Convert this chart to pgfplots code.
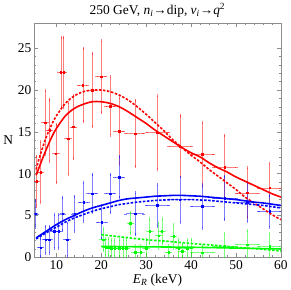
\documentclass[border=0pt]{standalone}
\usepackage{fontspec}
\setmainfont{Liberation Serif}
\usepackage{pgfplots}
\pgfplotsset{compat=1.18}
\usepackage{pgfplotstable}

\pgfplotstableread{
x y ex ey
5.6 9.1 0.5 3.0
6.5 10.2 0.5 3.6
7.5 16.1 0.5 3.8
8.5 15.2 0.5 3.7
9.9 12.4 0.5 3.5
11.0 22.1 0.5 4.2
11.6 22.1 0.5 4.2
12.6 14.2 0.5 4.3
13.8 15.6 0.5 3.8
15.9 20.6 1.0 4.4
18.0 20.0 1.0 4.4
20.0 21.6 1.0 4.3
22.0 18.1 1.0 3.5
24.0 15.1 1.0 4.0
27.5 14.8 2.0 4.0
32.5 14.9 2.5 4.4
37.5 13.3 2.5 3.7
42.5 12.3 2.5 3.8
47.5 10.8 2.5 3.8
52.5 7.7 2.5 3.0
57.5 8.3 2.5 2.9
}\reddata

\pgfplotstableread{
x y ex ey
5.4 5.2 0.5 1.6
6.5 1.15 0.5 1.1
7.6 2.1 0.5 1.6
8.4 2.1 0.5 1.6
9.5 3.1 0.5 2.0
10.5 3.1 0.5 2.0
11.4 5.2 0.5 2.0
12.4 2.1 0.5 2.0
14.1 5.2 0.5 2.1
16.1 6.6 1.0 2.3
18.0 7.6 1.0 2.3
20.1 4.2 1.0 2.0
22.0 7.6 1.0 2.3
24.0 9.6 1.0 2.5
27.5 5.2 2.0 2.5
32.5 6.2 2.5 2.5
37.5 6.9 2.5 2.7
42.5 6.1 2.5 2.6
47.5 7.1 2.5 2.6
52.5 6.6 2.5 2.3
57.5 5.5 2.5 1.9
}\bluedata

\pgfplotstableread{
x y ex ey
20.4 2.1 0.5 1.3
21.0 1.2 0.5 1.0
21.5 1.2 0.5 1.0
22.2 1.1 0.5 1.0
23.0 1.1 0.5 1.0
24.0 1.1 0.5 1.0
24.8 1.1 0.5 1.0
25.6 1.1 0.5 1.0
26.5 4.1 0.5 1.3
27.5 0.6 0.5 0.8
28.8 0.6 0.5 0.8
30.0 1.1 0.5 1.0
30.8 3.1 0.5 1.5
32.8 2.6 0.5 1.5
33.5 3.1 0.5 1.5
35.0 0.6 0.5 0.8
36.1 2.5 0.5 1.4
37.2 1.1 0.5 1.0
38.0 0.75 0.5 0.8
39.1 1.1 0.5 1.0
40.0 1.15 0.5 1.0
42.5 0.55 2.5 0.8
47.5 1.3 2.5 1.5
52.5 1.5 2.5 1.7
57.5 1.3 2.5 1.5
}\greendata

\begin{document}
\begin{tikzpicture}
\begin{axis}[
  scale only axis,
  width=248pt, height=235pt,
  xmin=5, xmax=60, ymin=0, ymax=28,
  xtick={10,20,30,40,50,60},
  ytick={0,5,10,15,20,25},
  minor x tick num=4,
  minor y tick num=4,
  tick align=inside,
  major tick length=4pt,
  minor tick length=2pt,
  axis line style={black!45},
  every tick/.style={black!45},
  tick label style={font=\fontsize{13.5}{15}\selectfont},
  yticklabel style={xshift=1pt},
  /pgf/number format/assume math mode=true,
  title={250 GeV, \textit{n}\textsubscript{\textit{i}}→dip, \textit{v}\textsubscript{\textit{i}}→\textit{q}\textsuperscript{2}},
  title style={font=\fontsize{13.5}{15}\selectfont, yshift=-4pt},
  xlabel={\textit{E}\textsubscript{\textit{R}} (keV)},
  ylabel={N},
  label style={font=\fontsize{13.5}{15}\selectfont},
  ylabel style={rotate=-90, xshift=2pt},
  xlabel style={yshift=3pt},
]
% error bar data
\addplot[only marks, red, mark=square*, mark size=0.8pt,
  error bars/.cd, x dir=both, x explicit, y dir=both, y explicit,
  error bar style={red, opacity=0.5, line width=0.6pt},
  error mark options={red, opacity=0.5, mark size=1.5pt, line width=0.6pt}]
  table[x=x, y=y, x error=ex, y error=ey]{\reddata};
\addplot[only marks, blue, mark=square*, mark size=0.8pt,
  error bars/.cd, x dir=both, x explicit, y dir=both, y explicit,
  error bar style={blue, opacity=0.5, line width=0.6pt},
  error mark options={blue, opacity=0.5, mark size=1.5pt, line width=0.6pt}]
  table[x=x, y=y, x error=ex, y error=ey]{\bluedata};
\addplot[only marks, green, mark=square*, mark size=0.8pt,
  error bars/.cd, x dir=both, x explicit, y dir=both, y explicit,
  error bar style={green, opacity=0.5, line width=0.6pt},
  error mark options={green, opacity=0.5, mark size=1.5pt, line width=0.6pt}]
  table[x=x, y=y, x error=ex, y error=ey]{\greendata};

% red curves
\addplot[red, line width=1.6pt, smooth] coordinates {
(5.5,9.8)(6,10.5)(7,11.9)(8,13.2)(9,14.4)(10,15.4)(12,16.9)(14,17.8)(16,18.3)(18,18.6)(20,18.6)(22,18.4)(24,18.0)(26,17.4)(28,16.7)(30,16.0)(32,15.2)(34,14.5)(36,13.8)(38,13.1)(40,12.5)(42,12.0)(44,11.3)(46,10.7)(48,10.2)(50,9.6)(52,9.1)(54,8.6)(56,8.1)(58,7.6)(60,7.2)};
\addplot[red, line width=1.6pt, smooth, dash pattern=on 2.5pt off 1.6pt] coordinates {
(5.5,10.5)(6,11.5)(7,13.2)(8,14.7)(9,15.9)(10,16.9)(12,18.4)(14,19.3)(16,19.8)(18,20.0)(20,20.0)(22,19.8)(24,19.4)(26,18.8)(28,18.0)(30,17.1)(32,16.1)(34,15.1)(36,14.0)(38,13.1)(40,12.2)(42,11.4)(44,10.5)(46,9.7)(48,8.9)(50,8.1)(52,7.2)(54,6.5)(56,5.8)(58,5.1)(60,4.5)};

% blue curves
\addplot[blue, line width=1.6pt, smooth] coordinates {
(5.5,2.3)(6,2.5)(8,3.2)(10,3.9)(12,4.5)(14,5.0)(16,5.5)(18,5.9)(20,6.2)(22,6.5)(24,6.8)(26,7.0)(28,7.1)(30,7.2)(32,7.3)(34,7.35)(36,7.4)(38,7.4)(40,7.35)(42,7.3)(44,7.2)(46,7.1)(48,7.0)(50,6.9)(52,6.75)(54,6.6)(56,6.5)(58,6.35)(60,6.2)};
\addplot[blue, line width=1.6pt, smooth, dash pattern=on 2.5pt off 1.6pt] coordinates {
(5.5,2.2)(6,2.35)(8,3.0)(10,3.6)(12,4.2)(14,4.7)(16,5.1)(18,5.5)(20,5.8)(22,6.05)(24,6.3)(26,6.45)(28,6.6)(30,6.7)(32,6.8)(34,6.85)(36,6.9)(38,6.9)(40,6.9)(42,6.85)(44,6.8)(46,6.7)(48,6.6)(50,6.5)(52,6.4)(54,6.3)(56,6.2)(58,6.05)(60,5.9)};

% green curves
\addplot[green, line width=1.6pt, smooth] coordinates {
(20,1.3)(30,1.25)(40,1.2)(50,1.1)(60,1.0)};
\addplot[green, line width=1.6pt, smooth, dash pattern=on 2.5pt off 1.6pt] coordinates {
(20,2.7)(25,2.4)(30,2.1)(35,1.9)(40,1.65)(45,1.45)(50,1.2)(55,1.0)(60,0.75)};
\end{axis}
\end{tikzpicture}
\end{document}
